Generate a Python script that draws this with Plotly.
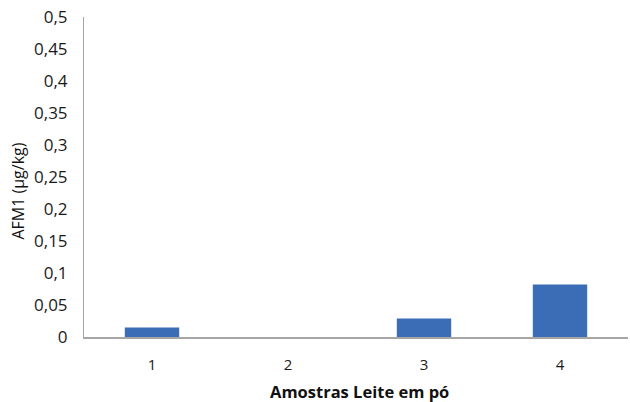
import plotly.graph_objects as go

# AFM1 levels in powdered milk samples
samples = ["1", "2", "3", "4"]
afm1 = [0.015, 0.0, 0.029, 0.082]

y_ticks = [0, 0.05, 0.1, 0.15, 0.2, 0.25, 0.3, 0.35, 0.4, 0.45, 0.5]
y_tick_text = ["0", "0,05", "0,1", "0,15", "0,2", "0,25", "0,3", "0,35", "0,4", "0,45", "0,5"]

x_title = "Amostras Leite em pó"
y_title = "AFM1 (µg/kg)"

font_family = "Open Sans, Lato, sans-serif"

fig = go.Figure(
    go.Bar(
        x=samples,
        y=afm1,
        marker=dict(color="#3a6db5", line=dict(width=0)),
        width=0.4,
    )
)

fig.update_layout(
    width=630,
    height=402,
    margin=dict(l=84, r=2, t=17, b=65),
    paper_bgcolor="white",
    plot_bgcolor="white",
    showlegend=False,
    separators=", ",
    font=dict(family=font_family, size=15, color="#1a1a1a"),
    annotations=[
        dict(
            text=f"<b>{x_title}</b>",
            xref="paper", yref="paper",
            x=0.507, y=-0.169,
            xanchor="center", yanchor="middle",
            showarrow=False,
            font=dict(size=16.5, color="#111111"),
        ),
        dict(
            text=y_title,
            xref="paper", yref="paper",
            x=-0.121, y=0.455,
            xanchor="center", yanchor="middle",
            textangle=-90,
            showarrow=False,
            font=dict(size=16, color="#111111"),
        ),
    ],
)

fig.update_xaxes(
    type="category",
    showline=True,
    linecolor="#a6a6a6",
    linewidth=1.5,
    showgrid=False,
    ticks="",
    ticklabelstandoff=13,
    tickfont=dict(size=15, color="#1a1a1a"),
    automargin=False,
)

fig.update_yaxes(
    range=[0, 0.5],
    tickvals=y_ticks,
    ticktext=y_tick_text,
    showline=True,
    linecolor="#a6a6a6",
    linewidth=1,
    showgrid=False,
    zeroline=False,
    ticks="",
    ticklabelstandoff=12,
    tickfont=dict(size=17, color="#1a1a1a"),
    automargin=False,
)

fig.write_html("out.html")
